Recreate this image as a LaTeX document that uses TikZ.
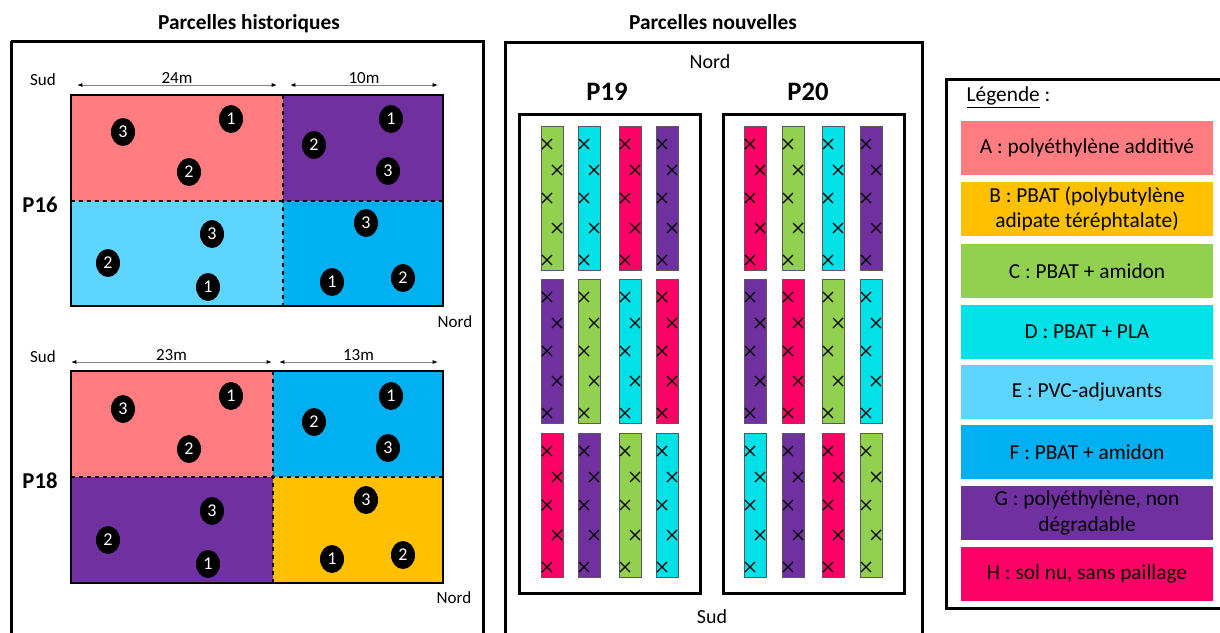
\documentclass[tikz,border=0pt]{standalone}
\usepackage{fontspec}
\setmainfont{Carlito}
\usetikzlibrary{arrows.meta,shapes.geometric,shapes.misc}

\definecolor{colA}{RGB}{255,124,128}
\definecolor{colB}{RGB}{255,192,0}
\definecolor{colC}{RGB}{146,208,80}
\definecolor{colD}{RGB}{0,226,232}
\definecolor{colE}{RGB}{93,213,255}
\definecolor{colF}{RGB}{0,176,240}
\definecolor{colG}{RGB}{112,48,160}
\definecolor{colH}{RGB}{255,0,102}

\tikzset{
  cadre/.style={draw=black, line width=2.25pt},
  parcelle/.style={draw=black, line width=1.5pt},
  limite/.style={dashed, line width=0.9pt},
  cote/.style={draw=gray, line width=0.75pt, {Latex[length=4pt,width=3pt,black]}-{Latex[length=4pt,width=3pt,black]}},
  pastille/.style={ellipse, fill=black, text=white, inner sep=0pt, minimum width=18pt, minimum height=21pt, font=\fontsize{13.5}{15}\selectfont},
  bande/.style={draw=black!65, line width=0.6pt},
  croix/.style={cross out, draw=black, line width=1pt, minimum size=6.5pt, inner sep=0pt},
  petit/.style={font=\fontsize{12.75}{15}\selectfont},
  moyen/.style={font=\fontsize{15}{18}\selectfont},
  titre/.style={font=\fontsize{16}{19}\selectfont\bfseries},
  legende/.style={minimum width=189pt, minimum height=40.5pt, inner sep=1pt, align=center, font=\fontsize{16}{19}\selectfont},
}

\begin{document}
\begin{tikzpicture}[x=0.75pt,y=0.75pt,yscale=-1,xscale=1]
\useasboundingbox (0,0) rectangle (1220,632);

% Cadres
\draw[cadre] (11,41) -- (11,650) (483,650) -- (483,41) -- (11,41);
\draw[cadre] (505,650) -- (505,42) -- (922,42) -- (922,650);
\draw[cadre] (1240,79) -- (946,79) -- (946,608) -- (1240,608);

% Text Node
\node[titre] (th) at (249,24) {Parcelles historiques};
\node[titre] (tn) at (713,22) {Parcelles nouvelles};

%%%%% P16
%Shape: Rectangle
\fill[colA] (71,95) rectangle (283,201);
\fill[colG] (283,95) rectangle (443,201);
\fill[colE] (71,201) rectangle (283,306);
\fill[colF] (283,201) rectangle (443,306);
\draw[limite] (71,201) -- (443,201) (283,95) -- (283,306);
\draw[parcelle] (71,95) rectangle (443,306);

\coordinate (p16a) at (77,85);
\coordinate (p16b) at (277,85);
\coordinate (p16c) at (290,85);
\coordinate (p16d) at (438,85);
\draw[cote] (p16a) -- node[petit, above, inner sep=1pt, text=black] (l24) {24m} (p16b);
\draw[cote] (p16c) -- node[petit, above, inner sep=1pt, text=black] (l10) {10m} (p16d);

% Text Node
\node[petit] (s16) at (43,80) {Sud};
\node[petit] (n16) at (455,322) {Nord};
\node[font=\fontsize{17}{20}\selectfont\bfseries] (p16) at (40,205) {P16};

\node[pastille] (a3) at (123,132) {3};
\node[pastille] (a1) at (231,119) {1};
\node[pastille] (a2) at (189,172) {2};
\node[pastille] (g1) at (391,119) {1};
\node[pastille] (g2) at (314,145) {2};
\node[pastille] (g3) at (388,171) {3};
\node[pastille] (e3) at (212,234) {3};
\node[pastille] (e2) at (108,263) {2};
\node[pastille] (e1) at (208,287) {1};
\node[pastille] (f3) at (366,223) {3};
\node[pastille] (f1) at (332,282) {1};
\node[pastille] (f2) at (403,278) {2};

%%%%% P18
%Shape: Rectangle
\fill[colA] (71,371) rectangle (273,477);
\fill[colF] (273,371) rectangle (443,477);
\fill[colG] (71,477) rectangle (273,583);
\fill[colB] (273,477) rectangle (443,583);
\draw[limite] (71,477) -- (443,477) (273,371) -- (273,583);
\draw[parcelle] (71,371) rectangle (443,583);

\coordinate (p18a) at (71,362);
\coordinate (p18b) at (272,362);
\coordinate (p18c) at (279,362);
\coordinate (p18d) at (438,362);
\draw[cote] (p18a) -- node[petit, above, inner sep=1pt, text=black] (l23) {23m} (p18b);
\draw[cote] (p18c) -- node[petit, above, inner sep=1pt, text=black] (l13) {13m} (p18d);

% Text Node
\node[petit] (s18) at (43,357) {Sud};
\node[petit] (n18) at (454,598) {Nord};
\node[font=\fontsize{17}{20}\selectfont\bfseries] (p18) at (40,481) {P18};

\node[pastille] (aa3) at (123,409) {3};
\node[pastille] (aa1) at (231,396) {1};
\node[pastille] (aa2) at (189,449) {2};
\node[pastille] (ff1) at (391,396) {1};
\node[pastille] (ff2) at (314,422) {2};
\node[pastille] (ff3) at (388,448) {3};
\node[pastille] (gg3) at (212,511) {3};
\node[pastille] (gg2) at (108,540) {2};
\node[pastille] (gg1) at (208,564) {1};
\node[pastille] (bb3) at (366,500) {3};
\node[pastille] (bb1) at (332,559) {1};
\node[pastille] (bb2) at (403,555) {2};

%%%%% P19 et P20
\node[moyen] (nord) at (710,62) {Nord};
\node[moyen] (sud) at (712,617) {Sud};
\node[font=\fontsize{20}{24}\selectfont\bfseries] (p19) at (607,92) {P19};
\node[font=\fontsize{20}{24}\selectfont\bfseries] (p20) at (808,92) {P20};
\draw[cadre] (519,114) rectangle (700,593);
\draw[cadre] (723,114) rectangle (904,593);

%Bandes
\foreach \x/\y/\c [count=\i] in {
  541/126/colC, 578/126/colD, 619/126/colH, 656/126/colG,
  541/279/colG, 578/279/colC, 619/279/colD, 656/279/colH,
  541/433/colH, 578/433/colG, 619/433/colC, 656/433/colD,
  744/126/colH, 782/126/colC, 822/126/colD, 860/126/colG,
  744/279/colG, 782/279/colH, 822/279/colC, 860/279/colD,
  744/433/colD, 782/433/colG, 822/433/colH, 860/433/colC}{
  \draw[bande, fill=\c] (\x,\y) rectangle ++(22,144);
  \foreach \dx/\dy [count=\k] in {6/18,16/44,6/72,16/102,6/134}
    \node[croix] (x\i-\k) at (\x+\dx,\y+\dy) {};
}

%%%%% Legende
\node[anchor=west, font=\fontsize{16}{19}\selectfont] (leg) at (962,97) {\underline{Légende} :};
\node[legende, fill=colA] (lA) at (1087,148) {A : polyéthylène additivé};
\node[legende, fill=colB] (lB) at (1087,209) {B : PBAT (polybutylène\\adipate téréphtalate)};
\node[legende, fill=colC] (lC) at (1087,271) {C : PBAT + amidon};
\node[legende, fill=colD] (lD) at (1087,332) {D : PBAT + PLA};
\node[legende, fill=colE] (lE) at (1087,392) {E : PVC-adjuvants};
\node[legende, fill=colF] (lF) at (1087,452) {F : PBAT + amidon};
\node[legende, fill=colG] (lG) at (1087,513) {G : polyéthylène, non\\dégradable};
\node[legende, fill=colH] (lH) at (1087,574) {H : sol nu, sans paillage};

\end{tikzpicture}
\end{document}
